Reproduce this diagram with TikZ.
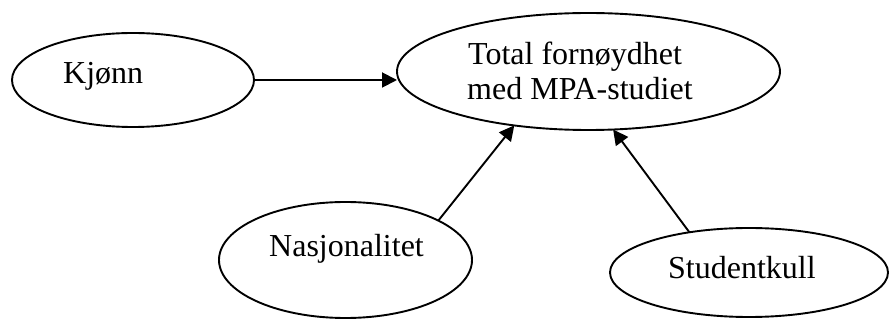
\documentclass[tikz,border=0pt]{standalone}
\usepackage{fontspec}
\setmainfont{Liberation Serif}
\usetikzlibrary{shapes.geometric,arrows.meta}
\begin{document}
\begin{tikzpicture}[x=1pt,y=-1pt,
  oval/.style={draw,ellipse,line width=1.9pt,inner sep=0pt,outer sep=0pt},
  lbl/.style={anchor=base west,inner sep=0pt,font=\fontsize{32}{35}\selectfont},
  conn/.style={line width=1.9pt,-{Triangle[length=15pt,width=15pt]}}]
\useasboundingbox (0,0) rectangle (889,320);
\node[oval,minimum width=242pt,minimum height=94pt] (kjonn) at (133,80) {};
\node[oval,minimum width=383pt,minimum height=117pt] (main) at (588.5,71.5) {};
\node[oval,minimum width=253pt,minimum height=116pt] (nas) at (345.5,260) {};
\node[oval,minimum width=278pt,minimum height=89pt] (stud) at (749,272.5) {};
\node[lbl] (tkjonn) at (63,84) {Kjønn};
\node[lbl] (tmain1) at (468,65) {Total fornøydhet};
\node[lbl] (tmain2) at (467,100) {med MPA-studiet};
\node[lbl] (tnas) at (269,257) {Nasjonalitet};
\node[lbl] (tstud) at (668,279) {Studentkull};
\draw[conn] (kjonn.east) -- (kjonn.east -| main.west);
\draw[conn] (nas.23.4) -- (main.216);
\draw[conn] (stud.146) -- (main.293);
\end{tikzpicture}
\end{document}
